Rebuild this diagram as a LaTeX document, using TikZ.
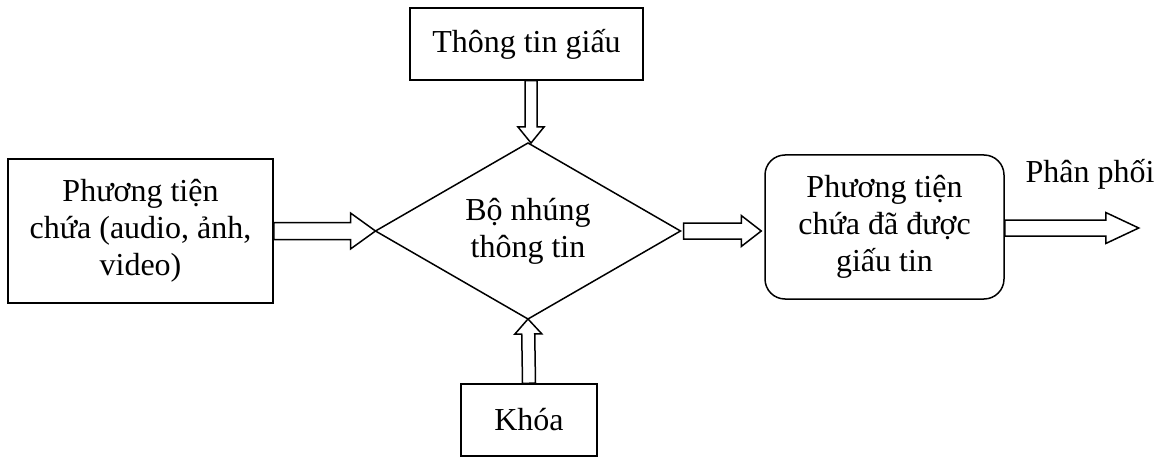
\documentclass[tikz,border=0pt]{standalone}
\usepackage{fontspec}
\setmainfont{Liberation Serif}
\usetikzlibrary{shapes.geometric,calc}

% hollow block arrow from #1 to #2: shaft half-width #3, head half-width #4, head length #5
\newcommand\hollowarrow[5]{%
  \draw[blockline]
    ($(#1)!#3!90:(#2)$)
    -- ($($(#2)!#5!(#1)$)!#3!-90:(#1)$)
    -- ($($(#2)!#5!(#1)$)!#4!-90:(#1)$)
    -- (#2)
    -- ($($(#2)!#5!(#1)$)!#4!90:(#1)$)
    -- ($($(#2)!#5!(#1)$)!#3!90:(#1)$)
    -- ($(#1)!#3!-90:(#2)$)
    -- cycle;}

\begin{document}
\begin{tikzpicture}[x=1pt,y=-1pt,
  font=\fontsize{32}{37}\selectfont,
  box/.style={draw,line width=1.5pt,inner sep=0pt,align=center},
  blockline/.style={draw,line width=1.5pt,line join=miter}]
\useasboundingbox (0,0) rectangle (1166,457);

\node[box,minimum width=233pt,minimum height=72pt] (info) at (526.5,44) {Thông tin giấu};
\node[box,minimum width=265pt,minimum height=144pt] (cover) at (140.5,231) {Phương tiện\\chứa (audio, ảnh,\\video)};
\node[box,shape=diamond,shape aspect=2,outer sep=0pt,minimum width=305pt,minimum height=176pt] (embed) at (528,231) {Bộ nhúng\\thông tin};
\node[box,minimum width=136pt,minimum height=72pt] (key) at (529,420) {Khóa};
\node[box,rounded corners=20pt,minimum width=239pt,minimum height=144pt] (stego) at (884.5,227) {Phương tiện\\chứa đã được\\giấu tin};
\node[inner sep=0pt] (dist) at (1090,174) {Phân phối};

\coordinate (infoout) at ($(embed.north |- info.south)+(3,0)$);
\coordinate (embedin) at ($(embed.north)+(3,0)$);
\coordinate (embedout) at ($(embed.east)+(3,0)$);
\coordinate (stegoin) at ($(stego.west)+(-3,4)$);
\coordinate (stegoout) at ($(stego.east)+(0,1)$);
\coordinate (distend) at ($(stego.east)+(134,1)$);

\hollowarrow{infoout}{embedin}{6pt}{13pt}{16pt}
\hollowarrow{cover.east}{embed.west}{8.5pt}{18pt}{25pt}
\hollowarrow{embedout}{stegoin}{8pt}{15.5pt}{20pt}
\hollowarrow{key.north}{embed.south}{6.5pt}{13.5pt}{15pt}
\hollowarrow{stegoout}{distend}{8pt}{15.5pt}{33pt}
\end{tikzpicture}
\end{document}
